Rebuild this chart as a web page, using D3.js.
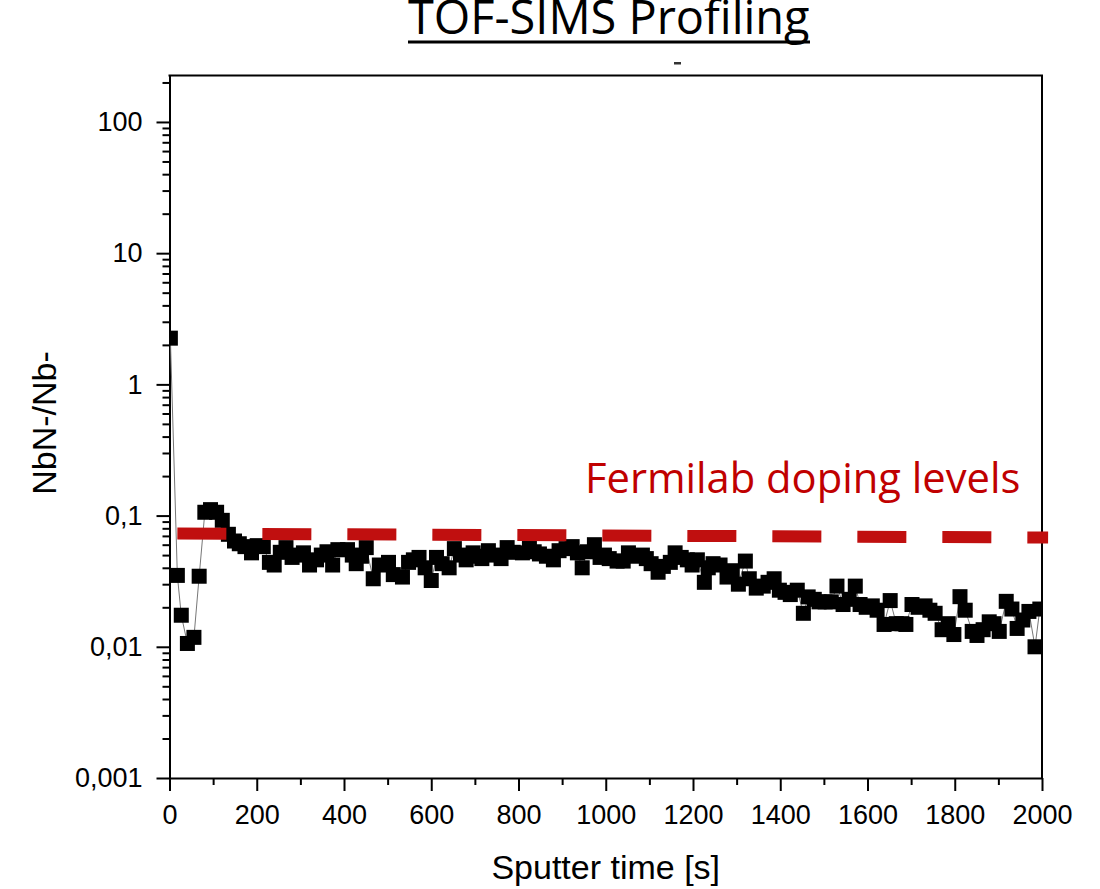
<!DOCTYPE html>
<html lang="en">
<head>
<meta charset="utf-8">
<title>TOF-SIMS Profiling</title>
<script src="https://cdn.jsdelivr.net/npm/d3@7"></script>
<style>
  body { margin: 0; background: #fff; }
  svg { display: block; }
  .tick text { font-family: "Liberation Sans", Arial, sans-serif; font-size: 27px; fill: #000; }
  .tick line { stroke: #000; stroke-width: 2; }
  .domain { stroke: #000; stroke-width: 2; }
</style>
</head>
<body>
<svg id="chart"></svg>
<script>
// sputter time [s] and NbN-/Nb- ratio
var times = [2, 18, 27, 41, 56, 68, 81, 94, 108, 121, 135, 149, 160, 173, 188, 201, 215, 229, 240, 254,
  267, 281, 293, 307, 321, 337, 348, 361, 374, 386, 408, 419, 428, 440, 451, 467, 481, 502, 513, 534,
  548, 559, 572, 586, 600, 612, 625, 641, 653, 667, 680, 696, 706, 716, 731, 745, 760, 774, 788, 809,
  825, 836, 848, 864, 880, 893, 909, 923, 935, 946, 958, 974, 987, 997, 1008, 1026, 1040, 1052, 1065, 1084,
  1093, 1104, 1120, 1132, 1148, 1159, 1173, 1187, 1198, 1210, 1226, 1235, 1246, 1262, 1278, 1290, 1304, 1320, 1329, 1345,
  1361, 1372, 1386, 1398, 1411, 1423, 1439, 1453, 1464, 1478, 1489, 1503, 1517, 1530, 1544, 1558, 1572, 1583, 1597, 1611,
  1622, 1638, 1652, 1666, 1679, 1688, 1702, 1716, 1732, 1743, 1755, 1771, 1785, 1798, 1812, 1824, 1840, 1851, 1865, 1879,
  1890, 1902, 1918, 1931, 1943, 1956, 1970, 1984, 1995];
var ratio = [2.25, 0.035, 0.0174, 0.0106, 0.0118, 0.0345, 0.106, 0.111, 0.106, 0.092, 0.072, 0.064, 0.061, 0.058, 0.052, 0.059, 0.058, 0.044, 0.042, 0.0525,
  0.057, 0.048, 0.050, 0.052, 0.042, 0.046, 0.050, 0.053, 0.042, 0.055, 0.055, 0.050, 0.043, 0.049, 0.057, 0.033, 0.042, 0.044, 0.0355, 0.034,
  0.044, 0.046, 0.048, 0.040, 0.032, 0.048, 0.043, 0.040, 0.056, 0.050, 0.046, 0.052, 0.049, 0.047, 0.054, 0.050, 0.047, 0.057, 0.0525, 0.052,
  0.057, 0.053, 0.051, 0.049, 0.046, 0.054, 0.056, 0.058, 0.052, 0.040, 0.053, 0.060, 0.048, 0.050, 0.047, 0.045, 0.045, 0.052, 0.049, 0.050,
  0.047, 0.043, 0.037, 0.041, 0.044, 0.052, 0.048, 0.046, 0.042, 0.046, 0.031, 0.040, 0.043, 0.042, 0.034, 0.038, 0.030, 0.045, 0.033, 0.028,
  0.029, 0.031, 0.033, 0.027, 0.026, 0.025, 0.027, 0.018, 0.024, 0.023, 0.022, 0.022, 0.022, 0.029, 0.021, 0.023, 0.029, 0.021, 0.020, 0.0205,
  0.019, 0.0148, 0.0225, 0.015, 0.015, 0.0148, 0.021, 0.020, 0.0205, 0.019, 0.018, 0.0135, 0.015, 0.0124, 0.0241, 0.019, 0.0131, 0.0122, 0.0135, 0.0155,
  0.015, 0.0131, 0.0222, 0.0194, 0.0138, 0.016, 0.0186, 0.0100, 0.0194];

// Fermilab doping level reference line (two end points)
var dopingTimes = [18, 2014];
var dopingLevels = [0.073, 0.068];

var xTicks = [0, 200, 400, 600, 800, 1000, 1200, 1400, 1600, 1800, 2000];
var xMinor = [100, 300, 500, 700, 900, 1100, 1300, 1500, 1700, 1900];
var yTicks = [0.001, 0.01, 0.1, 1, 10, 100];
var yTickLabels = ["0,001", "0,01", "0,1", "1", "10", "100"];

(function () {

  var width = 1100, height = 889;
  var pl = 169.5, pr = 1042, pt = 75.5, pb = 778;

  var svg = d3.select('#chart').attr('width', width).attr('height', height);

  var x = d3.scaleLinear().domain([0, 2000]).range([pl, pr]);
  var y = d3.scaleLog().domain([0.001, 226]).range([pb, pt]);

  var yMinor = [];
  yTicks.forEach(function(d) {
    for (var k = 2; k <= 9; k++) {
      if (d * k <= 226) yMinor.push(d * k);
    }
  });

  // minor ticks
  svg.append('g')
    .attr('transform', 'translate(0,' + pb + ')')
    .call(d3.axisBottom(x).tickValues(xMinor).tickSize(7).tickFormat(''))
    .call(function(g) { g.select('.domain').remove(); });
  svg.append('g')
    .attr('transform', 'translate(' + pl + ',0)')
    .call(d3.axisLeft(y).tickValues(yMinor).tickSize(7).tickFormat(''))
    .call(function(g) { g.select('.domain').remove(); });

  // major axes
  svg.append('g')
    .attr('transform', 'translate(0,' + pb + ')')
    .call(d3.axisBottom(x).tickValues(xTicks).tickSize(13).tickPadding(14).tickSizeOuter(0).tickFormat(d3.format('d')));
  svg.append('g')
    .attr('transform', 'translate(' + pl + ',0)')
    .call(d3.axisLeft(y).tickValues(yTicks).tickSize(13).tickPadding(14).tickSizeOuter(0)
      .tickFormat(function(d, i) { return yTickLabels[i]; }));

  // frame top / right
  svg.append('line').attr('x1', pl - 1).attr('x2', pr + 1).attr('y1', pt).attr('y2', pt)
    .attr('stroke', '#000').attr('stroke-width', 2);
  svg.append('line').attr('x1', pr).attr('x2', pr).attr('y1', pt).attr('y2', pb)
    .attr('stroke', '#000').attr('stroke-width', 2);

  // data
  var pts = times.map(function(t, i) { return {t: t, v: ratio[i]}; });

  svg.append('clipPath').attr('id', 'plotclip')
    .append('rect').attr('x', pl).attr('y', pt).attr('width', pr - pl).attr('height', pb - pt);

  var plot = svg.append('g').attr('clip-path', 'url(#plotclip)');

  plot.append('path')
    .datum(pts)
    .attr('fill', 'none')
    .attr('stroke', '#777')
    .attr('stroke-width', 1)
    .attr('d', d3.line().x(function(d) { return x(d.t); }).y(function(d) { return y(d.v); }));

  var sz = 15;
  plot.selectAll('rect.pt')
    .data(pts)
    .enter()
    .append('rect')
    .attr('class', 'pt')
    .attr('x', function(d) { return x(d.t) - sz / 2; })
    .attr('y', function(d) { return y(d.v) - sz / 2; })
    .attr('width', sz)
    .attr('height', sz)
    .attr('fill', '#000');

  // doping level dashed line
  svg.append('line')
    .attr('x1', x(dopingTimes[0])).attr('y1', y(dopingLevels[0]))
    .attr('x2', x(dopingTimes[1])).attr('y2', y(dopingLevels[1]))
    .attr('stroke', '#c00f0f')
    .attr('stroke-width', 12)
    .attr('stroke-dasharray', '49,36');

  // fit a text element to a given width by adjusting font-size
  function fitWidth(sel, w) {
    var fs = parseFloat(sel.attr('font-size'));
    var len = sel.node().getComputedTextLength();
    sel.attr('font-size', (fs * w / len).toFixed(1));
  }

  // Fermilab label
  var ferm = svg.append('text')
    .attr('x', 585).attr('y', 493)
    .attr('font-family', '"Open Sans", sans-serif')
    .attr('font-size', 36)
    .attr('fill', '#c00000')
    .text('Fermilab doping levels');
  fitWidth(ferm, 435);

  // title (underlined)
  var title = svg.append('text')
    .attr('x', 408).attr('y', 34)
    .attr('font-family', '"Open Sans", sans-serif')
    .attr('font-size', 36)
    .attr('fill', '#000')
    .text('TOF-SIMS Profiling');
  fitWidth(title, 402);
  svg.append('rect').attr('x', 408).attr('y', 40.5).attr('width', 402).attr('height', 3).attr('fill', '#000');
  svg.append('rect').attr('x', 674).attr('y', 62).attr('width', 7).attr('height', 2.5).attr('fill', '#333');

  // axis titles
  svg.append('text')
    .attr('x', (pl + pr) / 2).attr('y', 879)
    .attr('text-anchor', 'middle')
    .attr('font-family', '"Liberation Sans", Arial, sans-serif')
    .attr('font-size', 34)
    .text('Sputter time [s]');

  svg.append('text')
    .attr('transform', 'translate(56,423) rotate(-90)')
    .attr('text-anchor', 'middle')
    .attr('font-family', '"Liberation Sans", Arial, sans-serif')
    .attr('font-size', 34)
    .text('NbN-/Nb-');

})();
</script>
</body>
</html>
